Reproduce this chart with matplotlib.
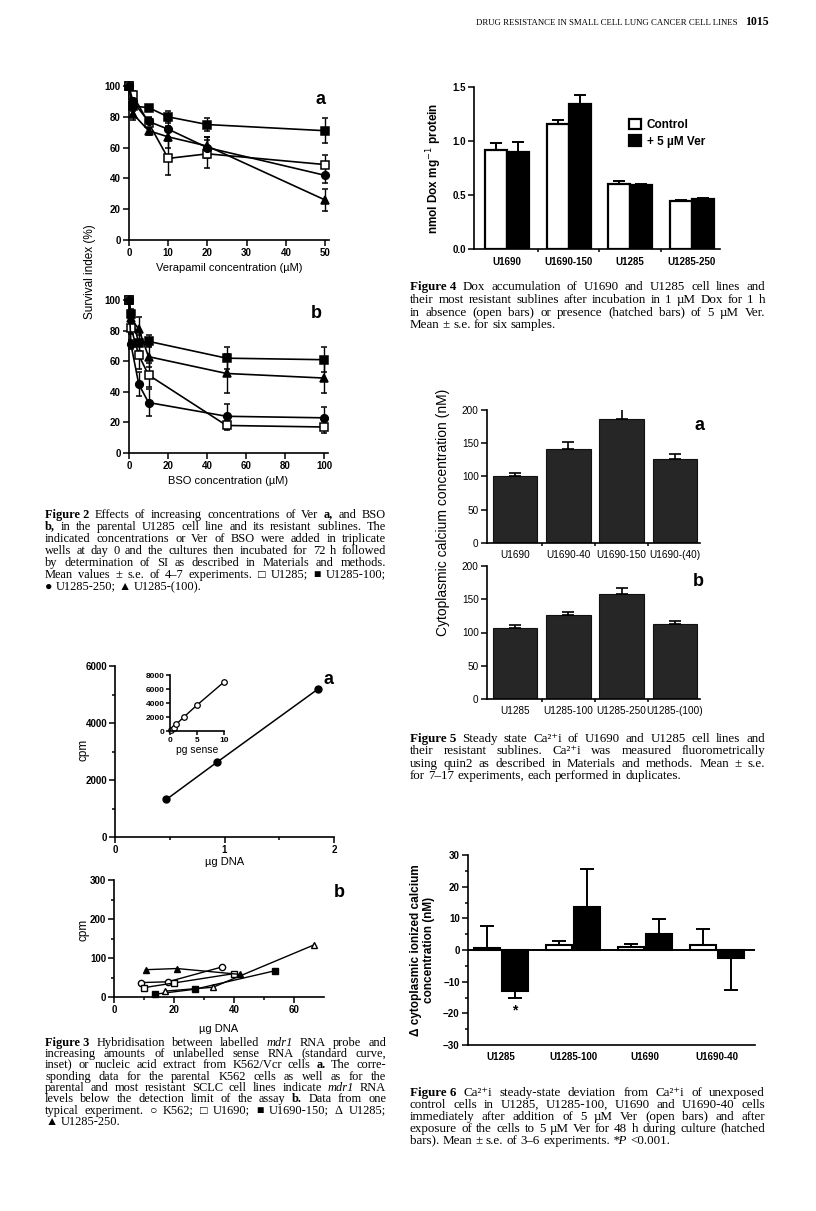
import math
import numpy as np
import matplotlib.pyplot as plt

# ---- Figure 2 data (survival index %, mean and s.e.)
ver_conc = [0, 1, 5, 10, 20, 50]
ver_u1285 = [100, 94, 76, 53, 56, 49]
ver_u1285_err = [0, 3, 3, 11, 9, 6]
ver_u1285_100 = [100, 87, 86, 80, 75, 71]
ver_u1285_100_err = [0, 3, 2, 4, 4, 8]
ver_u1285_250 = [100, 90, 77, 72, 60, 42]
ver_u1285_250_err = [0, 3, 3, 5, 7, 5]
ver_u1285_p100 = [100, 82, 71, 67, 61, 26]
ver_u1285_p100_err = [0, 4, 3, 7, 6, 7]

bso_conc = [0, 1, 5, 10, 50, 100]
bso_u1285 = [100, 82, 64, 51, 18, 17]
bso_u1285_err = [0, 4, 9, 8, 3, 4]
bso_u1285_100 = [100, 91, 72, 73, 62, 61]
bso_u1285_100_err = [0, 3, 5, 4, 7, 8]
bso_u1285_250 = [100, 71, 45, 33, 24, 23]
bso_u1285_250_err = [0, 3, 8, 9, 8, 7]
bso_u1285_p100 = [100, 88, 81, 63, 52, 49]
bso_u1285_p100_err = [0, 3, 8, 7, 13, 10]

# ---- Figure 3 data (cpm)
k562vcr_dna = [0.47, 0.93, 1.85]
k562vcr_cpm = [1320, 2620, 5180]
sense_pg = [0.25, 0.7, 1.2, 2.5, 5, 10]
sense_cpm = [150, 380, 1000, 1950, 3700, 7000]

k562_dna = [9, 18, 36]
k562_cpm = [37, 39, 77]
u1690_dna = [10, 20, 40]
u1690_cpm = [24, 36, 60]
u1690_150_dna = [13.5, 27, 53.5]
u1690_150_cpm = [7, 20, 67]
u1285_dna = [17, 33, 66.5]
u1285_cpm = [15, 25, 133]
u1285_250_dna = [10.5, 21, 42]
u1285_250_cpm = [70, 73, 58]

# ---- Figure 4 data (nmol Dox / mg protein)
dox_lines = ['U1690', 'U1690-150', 'U1285', 'U1285-250']
dox_ctrl = [0.92, 1.16, 0.60, 0.44]
dox_ctrl_err = [0.06, 0.03, 0.03, 0.01]
dox_ver = [0.90, 1.34, 0.59, 0.46]
dox_ver_err = [0.09, 0.09, 0.01, 0.01]

# ---- Figure 5 data (nM)
ca_lines_a = ['U1690', 'U1690-40', 'U1690-150', 'U1690-(40)']
ca_a = [100, 142, 187, 126]
ca_a_err = [5, 10, 15, 8]
ca_lines_b = ['U1285', 'U1285-100', 'U1285-250', 'U1285-(100)']
ca_b = [107, 126, 158, 113]
ca_b_err = [4, 5, 9, 4]

# ---- Figure 6 data (delta nM)
dca_lines = ['U1285', 'U1285-100', 'U1690', 'U1690-40']
dca_open = [0.5, 1.5, 0.8, 1.5]
dca_open_err = [7, 1.5, 1.0, 5]
dca_48h = [-13, 13.5, 5, -2.5]
dca_48h_err = [2, 12, 4.8, 10]

SANS = ['Liberation Sans', 'DejaVu Sans']
SERIF = ['Liberation Serif', 'DejaVu Sans']
plt.rcParams['font.family'] = SANS

W, H = 816, 1211
fig = plt.figure(figsize=(W / 100, H / 100), dpi=100)
renderer = fig.canvas.get_renderer()


def ax_px(l, t, r, b):
    return fig.add_axes([l / W, 1 - b / H, (r - l) / W, (b - t) / H])


def style(ax, size=7, bold=True, pad=2):
    for s in ['top', 'right']:
        ax.spines[s].set_visible(False)
    for s in ['left', 'bottom']:
        ax.spines[s].set_linewidth(1.2)
    ax.tick_params(which='both', direction='out', width=1.1, labelsize=size, pad=pad)
    ax.tick_params(which='major', length=4)
    ax.tick_params(which='minor', length=2.5)
    if bold:
        for lab in ax.get_xticklabels() + ax.get_yticklabels():
            lab.set_fontweight('bold')


def ftext(x, y, s, **kw):
    return fig.text(x / W, 1 - y / H, s, **kw)


def series(ax, x, y, e, marker, filled, ms=5.5):
    ax.errorbar(x, y, yerr=e, fmt='-' + marker, color='k', mfc='k' if filled else 'w',
                mec='k', mew=1.1, ms=ms, lw=1.2, elinewidth=1, capsize=2.5, capthick=1,
                clip_on=False, zorder=3)


def caption(lines, x0, x1, y0, dy, size=9):
    for i, line in enumerate(lines):
        texts = []
        for tok in line.split(' '):
            weight, fstyle = 'normal', 'normal'
            if tok.startswith('^'):
                tok, weight = tok[1:], 'bold'
            elif tok.startswith('_'):
                tok, fstyle = tok[1:], 'italic'
            texts.append(ftext(0, 0, tok.replace('~', ' '), fontsize=size, family=SERIF,
                               fontweight=weight, fontstyle=fstyle, va='baseline'))
        widths = [t.get_window_extent(renderer).width for t in texts]
        space = size * 100 / 72 * 0.25
        # shrink the line a little if it would not fit with normal word spaces
        need = sum(widths) + space * (len(texts) - 1)
        if need > x1 - x0:
            k = (x1 - x0) / need
            for t in texts:
                t.set_fontsize(size * k)
            widths = [w * k for w in widths]
            space *= k
        if i < len(lines) - 1 and len(texts) > 1:
            gap = (x1 - x0 - sum(widths)) / (len(texts) - 1)
        else:
            gap = space
        x = x0
        yb = round(y0 + i * dy + 3.5)
        for t, w in zip(texts, widths):
            # keep all words of a line on one pixel baseline
            _, h, d = renderer.get_text_width_height_descent(t.get_text(), t.get_fontproperties(), ismath=False)
            yc = yb + math.floor(h) - math.floor(h - d) - d
            t.set_position((x / W, 1 - yc / H))
            x += w + gap


# ---- page header
hdr = ftext(476, 25, 'DRUG RESISTANCE IN SMALL CELL LUNG CANCER CELL LINES',
            family=SERIF, fontsize=7, va='baseline')
hw = hdr.get_window_extent(renderer).width
hdr.set_fontsize(7 * 262 / hw)
ftext(745, 25, '1015', family=SERIF, fontsize=8.5, fontweight='bold', va='baseline')

# ---- Figure 2a
ax = ax_px(129, 83, 329, 240)
series(ax, ver_conc, ver_u1285_100, ver_u1285_100_err, 's', True)
series(ax, ver_conc, ver_u1285, ver_u1285_err, 's', False)
series(ax, ver_conc, ver_u1285_250, ver_u1285_250_err, 'o', True)
series(ax, ver_conc, ver_u1285_p100, ver_u1285_p100_err, '^', True)
ax.set_xlim(0, 51)
ax.set_ylim(0, 102)
ax.set_xticks(range(0, 51, 10))
ax.set_yticks(range(0, 101, 20))
style(ax)
ax.set_xlabel('Verapamil concentration (\u00b5M)', fontsize=8, labelpad=3)
ax.text(0.985, 0.95, 'a', transform=ax.transAxes, fontsize=13, fontweight='bold', ha='right', va='top')

# ---- Figure 2b
ax = ax_px(129, 297, 328, 453)
series(ax, bso_conc, bso_u1285_100, bso_u1285_100_err, 's', True)
series(ax, bso_conc, bso_u1285_p100, bso_u1285_p100_err, '^', True)
series(ax, bso_conc, bso_u1285, bso_u1285_err, 's', False)
series(ax, bso_conc, bso_u1285_250, bso_u1285_250_err, 'o', True)
ax.set_xlim(0, 102)
ax.set_ylim(0, 102)
ax.set_xticks(range(0, 101, 20))
ax.set_yticks(range(0, 101, 20))
style(ax)
ax.set_xlabel('BSO concentration (\u00b5M)', fontsize=8, labelpad=3)
ax.text(0.97, 0.95, 'b', transform=ax.transAxes, fontsize=13, fontweight='bold', ha='right', va='top')
ftext(90, 272, 'Survival index (%)', rotation=90, fontsize=8.5, ha='center', va='center')

caption(['^Figure~2 Effects of increasing concentrations of Ver ^a, and BSO',
         '^b, in the parental U1285 cell line and its resistant sublines. The',
         'indicated concentrations or Ver of BSO were added in triplicate',
         'wells at day 0 and the cultures then incubated for 72 h followed',
         'by determination of SI as described in Materials and methods.',
         'Mean values \u00b1 s.e. of 4\u20137 experiments. \u25a1 U1285; \u25a0 U1285-100;',
         '\u25cf U1285-250; \u25b2 U1285-(100).'],
        45, 386, 515, 11.9, size=8.9)

# ---- Figure 3a
ax = ax_px(115, 666, 334, 837)
ax.plot(k562vcr_dna, k562vcr_cpm, '-o', color='k', ms=5, lw=1.1, clip_on=False)
ax.set_xlim(0, 2)
ax.set_ylim(0, 6000)
ax.set_xticks([0, 1, 2])
ax.set_xticks([0.5, 1.5], minor=True)
ax.set_yticks(range(0, 6001, 2000))
ax.set_yticks(range(1000, 6000, 2000), minor=True)
style(ax, pad=1.5)
ax.set_xlabel('\u00b5g DNA', fontsize=8, labelpad=2)
ax.text(1.0, 0.97, 'a', transform=ax.transAxes, fontsize=13, fontweight='bold', ha='right', va='top')
ftext(83, 750, 'cpm', rotation=90, fontsize=8.5, ha='center', va='center')

ins = ax_px(170, 675, 224, 731)
ins.plot(sense_pg, sense_cpm, '-o', color='k', mfc='w', ms=4, lw=1, mew=0.9, clip_on=False)
ins.set_xlim(0, 10)
ins.set_ylim(0, 8000)
ins.set_xticks([0, 5, 10])
ins.set_yticks(range(0, 8001, 2000))
style(ins, size=6, pad=1)
ins.tick_params(which='major', length=3)
ins.set_xlabel('pg sense', fontsize=7.5, labelpad=1)

# ---- Figure 3b
ax = ax_px(114, 880, 324, 997)
ax.plot(k562_dna, k562_cpm, '-o', color='k', mfc='w', ms=4.5, lw=1, clip_on=False)
ax.plot(u1690_dna, u1690_cpm, '-s', color='k', mfc='w', ms=4.5, lw=1, clip_on=False)
ax.plot(u1690_150_dna, u1690_150_cpm, '-s', color='k', ms=4.5, lw=1, clip_on=False)
ax.plot(u1285_dna, u1285_cpm, '-^', color='k', mfc='w', ms=5, lw=1, clip_on=False)
ax.plot(u1285_250_dna, u1285_250_cpm, '-^', color='k', ms=5, lw=1, clip_on=False)
ax.set_xlim(0, 70)
ax.set_ylim(0, 300)
ax.set_xticks([0, 20, 40, 60])
ax.set_xticks([10, 30, 50], minor=True)
ax.set_yticks([0, 100, 200, 300])
ax.set_yticks([50, 150, 250], minor=True)
style(ax, pad=1.5)
ax.set_xlabel('\u00b5g DNA', fontsize=8, labelpad=7)
ax.text(1.1, 0.97, 'b', transform=ax.transAxes, fontsize=13, fontweight='bold', ha='right', va='top')
ftext(83, 930, 'cpm', rotation=90, fontsize=8.5, ha='center', va='center')

caption(['^Figure~3 Hybridisation between labelled _mdr1 RNA probe and',
         'increasing amounts of unlabelled sense RNA (standard curve,',
         'inset) or nucleic acid extract from K562/Vcr cells ^a. The corre-',
         'sponding data for the parental K562 cells as well as for the',
         'parental and most resistant SCLC cell lines indicate _mdr1 RNA',
         'levels below the detection limit of the assay ^b. Data from one',
         'typical experiment. \u25cb K562; \u25a1 U1690; \u25a0 U1690-150; \u0394 U1285;',
         '\u25b2 U1285-250.'],
        45, 386, 1042, 11.4, size=8.9)

# ---- Figure 4
ax = ax_px(474, 87, 720, 249)
xg = np.arange(len(dox_lines))
bw = 0.36
ax.bar(xg - bw / 2, dox_ctrl, bw, color='w', edgecolor='k', lw=1.6,
       yerr=[np.zeros(4), dox_ctrl_err], capsize=4, error_kw=dict(elinewidth=1.4, capthick=1.4), label='Control')
ax.bar(xg + bw / 2, dox_ver, bw, color='k', edgecolor='k', lw=1.6,
       yerr=[np.zeros(4), dox_ver_err], capsize=4, error_kw=dict(elinewidth=1.4, capthick=1.4),
       label='+ 5 \u00b5M Ver')
ax.set_xlim(-0.54, 3.46)
ax.set_ylim(0, 1.5)
ax.set_xticks(xg, dox_lines)
ax.set_xticks(xg[:-1] + 0.5, minor=True)
ax.set_yticks([0.0, 0.5, 1.0, 1.5])
ax.yaxis.set_major_formatter(plt.FormatStrFormatter('%.1f'))
style(ax)
ax.tick_params(axis='x', which='major', length=0, pad=6)
ax.set_ylabel('nmol Dox mg$^{-1}$ protein', fontsize=8.5, fontweight='bold', labelpad=6)
ax.legend(loc='upper left', bbox_to_anchor=(623 / W, 1 - 113 / H), bbox_transform=fig.transFigure,
          frameon=False, handlelength=1.0, handleheight=1.0, handletextpad=0.5,
          labelspacing=0.35, borderpad=0, prop={'weight': 'bold', 'size': 8.5})

caption(['^Figure~4 Dox accumulation of U1690 and U1285 cell lines and',
         'their most resistant sublines after incubation in 1 \u00b5M Dox for 1 h',
         'in absence (open bars) or presence (hatched bars) of 5 \u00b5M Ver.',
         'Mean \u00b1 s.e. for six samples.'],
        410, 765, 287, 12.6, size=9.4)

# ---- Figure 5
for vals, errs, labs, top, letter in [(ca_a, ca_a_err, ca_lines_a, 410, 'a'),
                                       (ca_b, ca_b_err, ca_lines_b, 566, 'b')]:
    ax = ax_px(487, top, 700, top + 133)
    xg = np.arange(len(labs))
    ax.bar(xg, vals, 0.84, color='#262626', edgecolor='#111111', lw=0.8,
           yerr=[np.zeros(4), errs], capsize=4.5, error_kw=dict(elinewidth=1.2, capthick=1.2))
    ax.set_xlim(-0.525, 3.47)
    ax.set_ylim(0, 200)
    ax.set_xticks(xg, labs)
    ax.set_xticks(xg[:-1] + 0.5, minor=True)
    ax.set_yticks([0, 50, 100, 150, 200])
    style(ax, size=7.2, bold=False)
    ax.tick_params(axis='x', which='major', length=0, pad=5)
    ax.text(1.02, 0.95, letter, transform=ax.transAxes, fontsize=13, fontweight='bold', ha='right', va='top')
ftext(443, 512, 'Cytoplasmic calcium concentration (nM)', rotation=90, fontsize=10, ha='center', va='center')

caption(['^Figure~5 Steady state Ca\u00b2\u207ai of U1690 and U1285 cell lines and',
         'their resistant sublines. Ca\u00b2\u207ai was measured fluorometrically',
         'using quin2 as described in Materials and methods. Mean \u00b1 s.e.',
         'for 7\u201317 experiments, each performed in duplicates.'],
        410, 765, 738, 12.6, size=9.4)

# ---- Figure 6
ax = ax_px(468, 855, 755, 1045)
xg = np.arange(len(dca_lines))
bw = 0.37
lo_o = [e if v < 0 else 0 for v, e in zip(dca_open, dca_open_err)]
hi_o = [e if v >= 0 else 0 for v, e in zip(dca_open, dca_open_err)]
lo_f = [e if v < 0 else 0 for v, e in zip(dca_48h, dca_48h_err)]
hi_f = [e if v >= 0 else 0 for v, e in zip(dca_48h, dca_48h_err)]
ax.bar(xg - bw / 2 - 0.01, dca_open, bw, color='w', edgecolor='k', lw=1.5,
       yerr=[lo_o, hi_o], capsize=5, error_kw=dict(elinewidth=1.4, capthick=1.4))
ax.bar(xg + bw / 2 + 0.01, dca_48h, bw, color='k', edgecolor='k', lw=1.5,
       yerr=[lo_f, hi_f], capsize=5, error_kw=dict(elinewidth=1.4, capthick=1.4))
ax.axhline(0, color='k', lw=1.4)
ax.text(xg[0] + bw / 2, dca_48h[0] - dca_48h_err[0] - 2, '*', ha='center', va='top', fontsize=10, fontweight='bold')
ax.set_xlim(-0.46, 3.53)
ax.set_ylim(-30, 30)
ax.set_xticks(xg, dca_lines)
ax.set_yticks(range(-30, 31, 10))
ax.set_yticks(range(-25, 30, 10), minor=True)
style(ax)
ax.tick_params(axis='x', which='major', length=0, pad=5)
ax.set_ylabel('\u0394 cytoplasmic ionized calcium\nconcentration (nM)', fontsize=8.5,
              fontweight='bold', labelpad=6, linespacing=1.1)

caption(['^Figure~6 Ca\u00b2\u207ai steady-state deviation from Ca\u00b2\u207ai of unexposed',
         'control cells in U1285, U1285-100, U1690 and U1690-40 cells',
         'immediately after addition of 5 \u00b5M Ver (open bars) and after',
         'exposure of the cells to 5 \u00b5M Ver for 48 h during culture (hatched',
         'bars). Mean \u00b1 s.e. of 3\u20136 experiments. _*P <0.001.'],
        410, 765, 1092, 12.0, size=9.4)

fig.savefig('out.png', dpi=100)
